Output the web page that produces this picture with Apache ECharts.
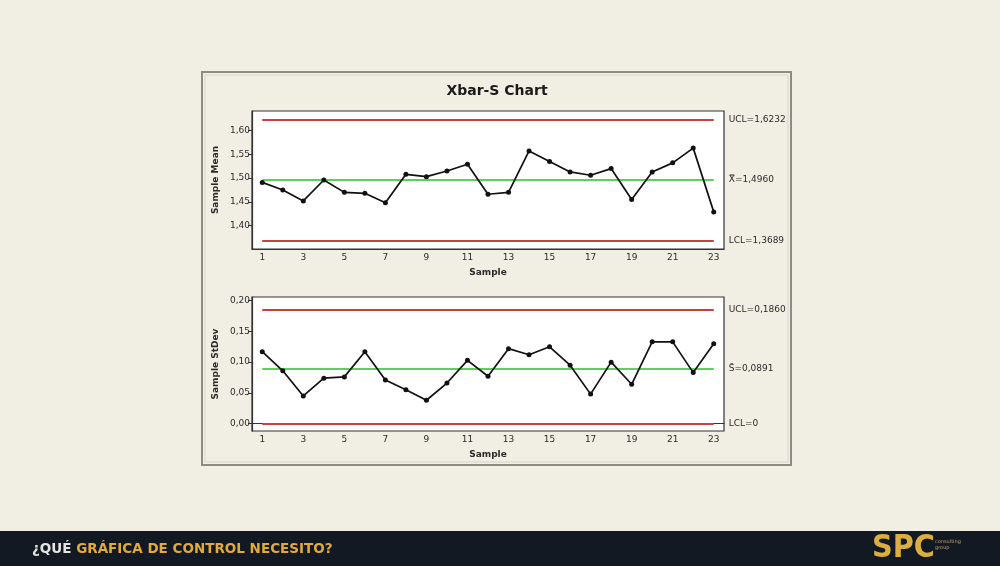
<!DOCTYPE html>
<html>
<head>
<meta charset="utf-8">
<script src="https://cdn.jsdelivr.net/npm/echarts@6/dist/echarts.min.js"></script>
<style>
html,body{margin:0;padding:0;background:#f1eee4;}
#c{width:1000px;height:566px;}
</style>
</head>
<body>
<div id="c"></div>
<script>
// ---- data ----
const samples = ['1','2','3','4','5','6','7','8','9','10','11','12','13','14','15','16','17','18','19','20','21','22','23'];
const sampleMeans = [1.491,1.475,1.452,1.496,1.470,1.468,1.448,1.508,1.503,1.515,1.529,1.466,1.470,1.557,1.535,1.513,1.506,1.520,1.455,1.513,1.532,1.563,1.429];
const sampleStDevs = [0.117,0.086,0.045,0.074,0.076,0.117,0.071,0.055,0.038,0.066,0.103,0.077,0.122,0.112,0.125,0.095,0.048,0.100,0.064,0.133,0.133,0.083,0.130];
const meanLimits = {UCL: 1.6232, CL: 1.4960, LCL: 1.3689};
const sdLimits = {UCL: 0.1860, CL: 0.0891, LCL: 0};
const meanLimitLabels = ['UCL=1,6232', 'X\u033F=1,4960', 'LCL=1,3689'];
const sdLimitLabels = ['UCL=0,1860', 'S\u0304=0,0891', 'LCL=0'];
const meanTicks = [1.40, 1.45, 1.50, 1.55, 1.60];
const sdTicks = [0.00, 0.05, 0.10, 0.15, 0.20];

const RED = '#c8403f', GREEN = '#55d455', FONT = 'DejaVu Sans', TXT = '#2b2b2b';
const fmt = v => v.toFixed(2).replace('.', ',');

function limitLines(lim, labels) {
  const mk = (val, color, text) => [
    {coord: [0, val], lineStyle: {color: color, width: 2, type: 'solid'},
     label: {show: true, position: 'end', distance: 15, formatter: text, color: TXT, fontFamily: FONT, fontSize: 9}},
    {coord: [samples.length - 1, val]}
  ];
  return {
    silent: true, symbol: 'none', animation: false,
    data: [mk(lim.UCL, RED, labels[0]), mk(lim.CL, GREEN, labels[1]), mk(lim.LCL, RED, labels[2])]
  };
}

function xAxis(gi) {
  return {
    type: 'category', gridIndex: gi, data: samples, boundaryGap: true,
    name: 'Sample', nameLocation: 'middle', nameGap: 19,
    nameTextStyle: {fontFamily: FONT, fontSize: 9, fontWeight: 'bold', color: TXT},
    axisLine: {lineStyle: {color: '#333', width: 1.2}},
    axisTick: {interval: 1, alignWithLabel: true, length: 4, lineStyle: {color: '#333'}},
    axisLabel: {interval: 1, margin: 4, fontFamily: FONT, fontSize: 9, color: TXT},
    splitLine: {show: false}
  };
}
function yAxis(gi, min, max, ticks, name) {
  return {
    type: 'value', gridIndex: gi, min: min, max: max,
    name: name, nameLocation: 'middle', nameGap: 32, nameRotate: 90,
    nameTextStyle: {fontFamily: FONT, fontSize: 9, fontWeight: 'bold', color: TXT},
    axisLine: {show: true, lineStyle: {color: '#333', width: 1.2}},
    axisTick: {show: true, customValues: ticks, length: 4, lineStyle: {color: '#333'}},
    axisLabel: {customValues: ticks, formatter: fmt, margin: 2, fontFamily: FONT, fontSize: 9, color: TXT},
    splitLine: {show: false}
  };
}
function dataSeries(gi, data, lim, labels) {
  return {
    type: 'line', xAxisIndex: gi, yAxisIndex: gi, data: data,
    symbol: 'circle', symbolSize: 5, color: '#111',
    lineStyle: {color: '#111', width: 1.7}, itemStyle: {color: '#111'},
    z: 5, markLine: limitLines(lim, labels)
  };
}

const chart = echarts.init(document.getElementById('c'), null, {renderer: 'canvas'});
chart.setOption({
  animation: false,
  backgroundColor: '#f1eee4',
  graphic: [
    {type: 'rect', shape: {x: 202, y: 72, width: 589, height: 393}, style: {fill: '#f1eee4', stroke: '#8c8c84', lineWidth: 2}, z: -10},
    {type: 'rect', shape: {x: 205, y: 75, width: 583, height: 387}, style: {fill: 'none', stroke: '#d6d4cb', lineWidth: 1}, z: -10},
    {type: 'text', x: 497, y: 91, style: {text: 'Xbar-S Chart', font: 'bold 14px "DejaVu Sans"', fill: '#1a1a1a', align: 'center', verticalAlign: 'middle'}},
    {type: 'rect', shape: {x: 0, y: 531, width: 1000, height: 35}, style: {fill: '#131923'}},
    {type: 'text', x: 32, y: 549, style: {rich: {a: {fill: '#e4e4e0', font: 'bold 13.5px "DejaVu Sans"'}, b: {fill: '#e0aa3e', font: 'bold 13.5px "DejaVu Sans"'}}, text: '{a|¿QUÉ }{b|GRÁFICA DE CONTROL NECESITO?}', verticalAlign: 'middle'}},
    {type: 'text', x: 872, y: 549, style: {text: 'SPC', font: 'bold 32px "DejaVu Sans Condensed"', fill: '#dcae3f', verticalAlign: 'middle'}},
    {type: 'text', x: 935, y: 545, style: {text: 'consulting\ngroup', font: '5px "DejaVu Sans"', fill: '#b8a070', verticalAlign: 'middle', lineHeight: 6}}
  ],
  grid: [
    {left: 252, right: 276, top: 111, height: 138, show: true, backgroundColor: '#ffffff', borderColor: '#333', borderWidth: 1.2},
    {left: 252, right: 276, top: 297, height: 134, show: true, backgroundColor: '#ffffff', borderColor: '#333', borderWidth: 1.2}
  ],
  xAxis: [xAxis(0), xAxis(1)],
  yAxis: [
    yAxis(0, 1.351, 1.641, meanTicks, 'Sample Mean'),
    yAxis(1, -0.012, 0.206, sdTicks, 'Sample StDev')
  ],
  series: [
    dataSeries(0, sampleMeans, meanLimits, meanLimitLabels),
    dataSeries(1, sampleStDevs, sdLimits, sdLimitLabels)
  ]
});
</script>
</body>
</html>
